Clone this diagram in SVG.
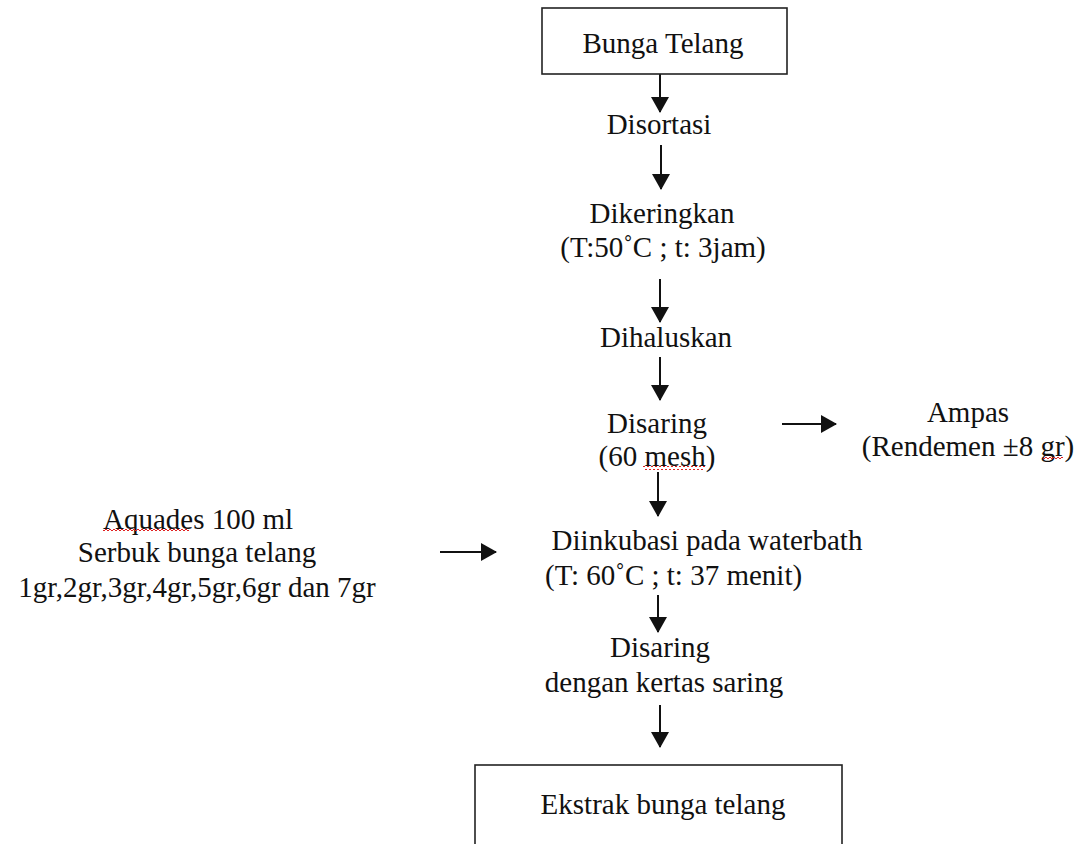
<svg xmlns="http://www.w3.org/2000/svg" width="1077" height="844" viewBox="0 0 1077 844">
  <style>
    .t text { font-size: 29px; fill: #111; }
    .c { text-anchor: middle; }
    .box { fill: #fff; stroke: #222; stroke-width: 1.6; }
    .conn line { stroke: #111; stroke-width: 2; marker-end: url(#arr); }
  </style>
  <defs>
    <marker id="arr" viewBox="0 0 16 18" refX="15" refY="9" markerWidth="16" markerHeight="18" markerUnits="userSpaceOnUse" orient="auto">
      <path d="M0,0 L16,9 L0,18 z" fill="#111"/>
    </marker>
    <pattern id="wave" width="4" height="4" patternUnits="userSpaceOnUse">
      <path d="M0,3 L2,1 L4,3" fill="none" stroke="#e02020" stroke-width="1"/>
    </pattern>
  </defs>
  <rect width="1077" height="844" fill="#fff"/>

  <g id="connectors" class="conn">
    <line x1="660" y1="74" x2="660" y2="112"/>
    <line x1="661" y1="145" x2="661" y2="189"/>
    <line x1="660" y1="279" x2="660" y2="322"/>
    <line x1="660" y1="357" x2="660" y2="400"/>
    <line x1="658" y1="472" x2="658" y2="516"/>
    <line x1="782" y1="424" x2="836" y2="424"/>
    <line x1="440" y1="552" x2="496" y2="552"/>
    <line x1="658" y1="595" x2="658" y2="632"/>
    <line x1="660" y1="705" x2="660" y2="747"/>
  </g>

  <g class="t" font-family="Liberation Serif, DejaVu Serif, serif">
  <g id="n-bunga">
    <rect class="box" x="542" y="8" width="245" height="66"/>
    <text class="c" x="663" y="53">Bunga Telang</text>
  </g>
  <g id="n-disortasi">
    <text class="c" x="659" y="134">Disortasi</text>
  </g>
  <g id="n-dikeringkan">
    <text class="c" x="662" y="223">Dikeringkan</text>
    <text class="c" x="663" y="257">(T:50˚C ; t: 3jam)</text>
  </g>
  <g id="n-dihaluskan">
    <text class="c" x="666" y="347">Dihaluskan</text>
  </g>
  <g id="n-disaring1">
    <text class="c" x="657" y="433">Disaring</text>
    <text class="c" x="657" y="466">(60 mesh)</text>
    <rect x="643" y="466" width="62" height="4" fill="url(#wave)"/>
  </g>
  <g id="n-ampas">
    <text class="c" x="968" y="422">Ampas</text>
    <text class="c" x="968" y="456">(Rendemen ±8 gr)</text>
    <rect x="1043" y="456" width="20" height="4" fill="url(#wave)"/>
  </g>
  <g id="n-aquades">
    <text class="c" x="198" y="529">Aquades 100 ml</text>
    <rect x="103" y="529" width="86" height="4" fill="url(#wave)"/>
    <text class="c" x="197" y="562">Serbuk bunga telang</text>
    <text class="c" x="197" y="597">1gr,2gr,3gr,4gr,5gr,6gr dan 7gr</text>
  </g>
  <g id="n-inkubasi">
    <text class="c" x="707" y="550">Diinkubasi pada waterbath</text>
    <text x="545" y="585">(T: 60˚C ; t: 37 menit)</text>
  </g>
  <g id="n-disaring2">
    <text class="c" x="660" y="657">Disaring</text>
    <text class="c" x="664" y="692">dengan kertas saring</text>
  </g>
  <g id="n-ekstrak">
    <rect class="box" x="475" y="765" width="367" height="100"/>
    <text class="c" x="663" y="814">Ekstrak bunga telang</text>
  </g>
  </g>
</svg>
